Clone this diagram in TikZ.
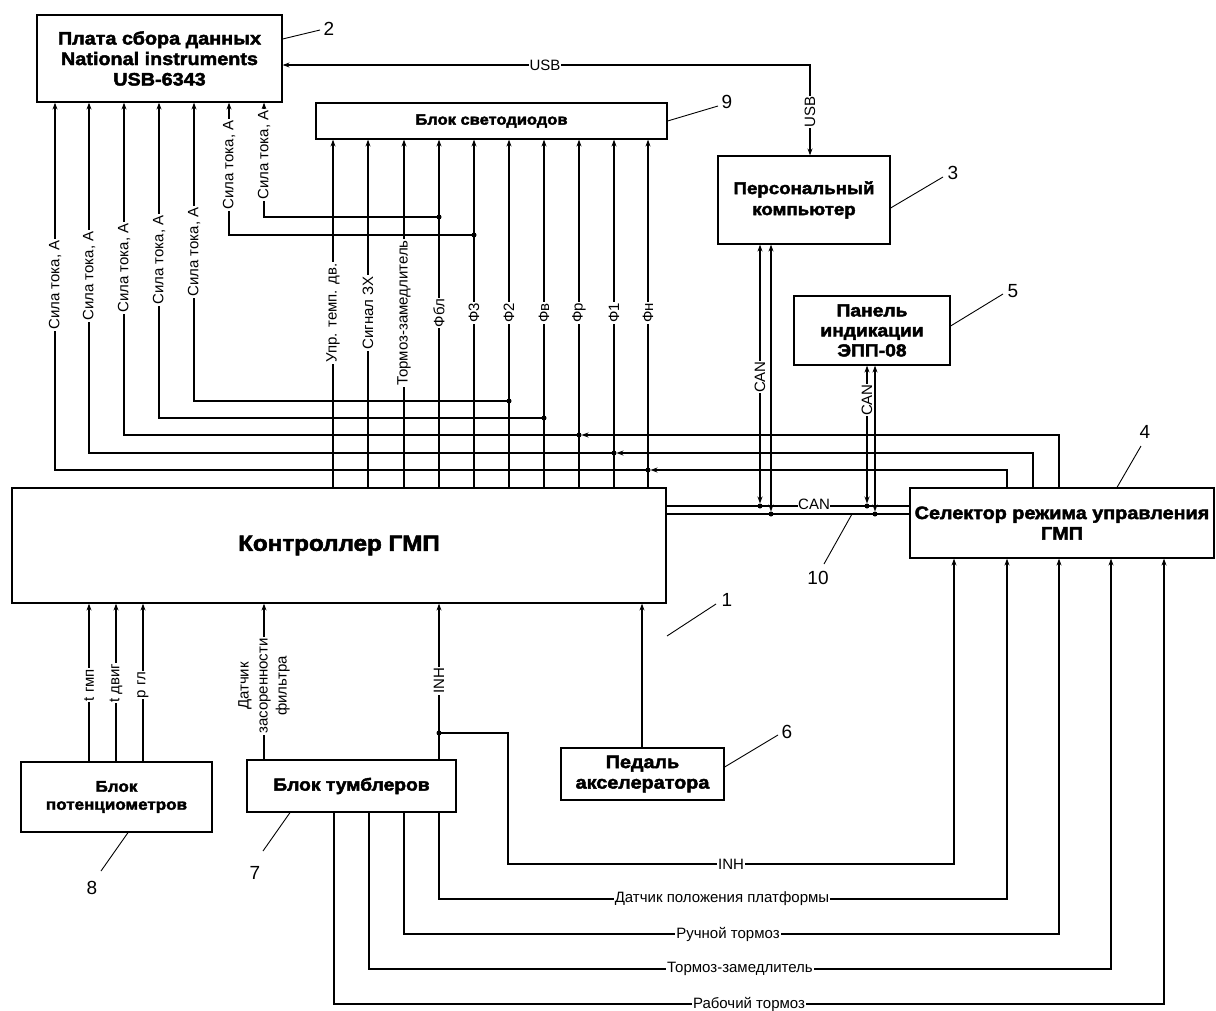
\documentclass[tikz,border=0pt]{standalone}
\usepackage{fontspec}
\setmainfont{Liberation Sans}
\newfontfamily\heavy{Liberation Sans}[FakeStretch=1.1,BoldFeatures={FakeBold=2.5}]
\usetikzlibrary{arrows.meta}
\tikzset{
 box/.style={draw, line width=1.2pt, inner sep=0pt, align=center, font=\heavy\bfseries\fontsize{18}{20.5}\selectfont},
 lab/.style={fill=white, inner sep=1pt, font=\fontsize{15}{19}\selectfont},
 vlab/.style={lab, rotate=90},
 num/.style={inner sep=0pt, font=\fontsize{19}{20}\selectfont},
 arr/.style={-{Stealth[length=7pt,width=5pt]}},
 arrb/.style={{Stealth[length=7pt,width=5pt]}-{Stealth[length=7pt,width=5pt]}},
 leader/.style={line width=0.9pt},
}
\begin{document}
\begin{tikzpicture}[x=1pt,y=-1pt,line width=1.1pt]
\useasboundingbox (0,0) rectangle (1216,1010);
% boxes
\node[box, minimum width=245pt, minimum height=87pt] (b2) at (159.5,58.5) {Плата сбора данных\\National instruments\\USB-6343};
\node[box, minimum width=351pt, minimum height=36pt, font=\heavy\bfseries\fontsize{15}{18}\selectfont] (b9) at (491.5,121) {Блок светодиодов};
\node[box, minimum width=172pt, minimum height=88pt, font=\heavy\bfseries\fontsize{17}{21}\selectfont] (pc) at (804,200) {Персональный\\компьютер};
\node[box, minimum width=156pt, minimum height=69pt, font=\heavy\bfseries\fontsize{17.5}{20}\selectfont] (pan) at (872,330.5) {Панель\\индикации\\ЭПП-08};
\node[box, minimum width=654pt, minimum height=115pt, font=\heavy\bfseries\fontsize{22}{24}\selectfont] (ctrl) at (339,545.5) {Контроллер ГМП};
\node[box, minimum width=304pt, minimum height=70pt] (sel) at (1062,523) {Селектор режима управления\\ГМП};
\node[box, minimum width=191pt, minimum height=70pt, font=\heavy\bfseries\fontsize{15.5}{18}\selectfont] (pot) at (116.5,797) {Блок\\потенциометров};
\node[box, minimum width=209pt, minimum height=52pt, font=\heavy\bfseries\fontsize{17.5}{20}\selectfont] (tum) at (351.5,786) {Блок тумблеров};
\node[box, minimum width=163pt, minimum height=52pt] (ped) at (642.5,774) {Педаль\\акселератора};
% controller -> LED block
\foreach \x/\t [count=\i] in {333/{Упр. темп. дв.},368/{Сигнал ЗХ},404/{Тормоз-замедлитель},439/Фбл,474/Ф3,509/Ф2,544/Фв,579/Фр,614/Ф1,648/Фн}{
  \draw[arr] (\x,0 |- ctrl.north) -- (\x,0 |- b9.south);
  \node[vlab] (lf\i) at (\x,313) {\t};
}
% current lines to DAQ
\coordinate (j1) at (648,470);
\coordinate (j2) at (614,453);
\coordinate (j3) at (579,435);
\coordinate (j4) at (544,418);
\coordinate (j5) at (509,401);
\coordinate (j6) at (474,235);
\coordinate (j7) at (439,217);
\draw[arr] (j1) -| (55,0 |- b2.south);
\draw[arr] (j2) -| (89,0 |- b2.south);
\draw[arr] (j3) -| (124,0 |- b2.south);
\draw[arr] (j4) -| (159,0 |- b2.south);
\draw[arr] (j5) -| (194,0 |- b2.south);
\draw[arr] (j6) -| (229,0 |- b2.south);
\draw[arr] (j7) -| (264,0 |- b2.south);
\draw[arr, shorten >=2.5pt] (1007,0 |- sel.north) |- (j1);
\draw[arr, shorten >=2.5pt] (1033,0 |- sel.north) |- (j2);
\draw[arr, shorten >=2.5pt] (1059,0 |- sel.north) |- (j3);
\foreach \j in {1,...,7} \fill (j\j) circle (2.5pt);
\foreach \x/\y [count=\i] in {55/285,89/276,124/268,159/260,194/252,229/165,264/155}
  \node[vlab] (ls\i) at (\x,\y) {Сила тока, А};
% USB
\draw[arrb] (b2.east |- 0,65) -| (810,0 |- pc.north);
\node[lab] (usb1) at (545,65) {USB};
\node[vlab] (usb2) at (810,112) {USB};
% CAN
\coordinate (c1) at (760,506);
\coordinate (c2) at (771,514);
\coordinate (c3) at (867,506);
\coordinate (c4) at (875,514);
\draw (ctrl.east |- c1) -- (sel.west |- c1);
\draw (ctrl.east |- c2) -- (sel.west |- c2);
\draw[arrb, shorten >=2.5pt] (c1 |- pc.south) -- (c1);
\draw[arrb, shorten >=2.5pt] (c2 |- pc.south) -- (c2);
\draw[arrb, shorten >=2.5pt] (c3 |- pan.south) -- (c3);
\draw[arrb, shorten >=2.5pt] (c4 |- pan.south) -- (c4);
\foreach \c in {c1,c2,c3,c4} \fill (\c) circle (2.5pt);
\node[lab, inner sep=0.5pt] (canb) at (814,504.5) {CAN};
\node[vlab, inner sep=0.5pt] (can1) at (760,377) {CAN};
\node[vlab, inner sep=0.5pt] (can2) at (867,400) {CAN};
% bottom inputs of controller
\draw[arr] (89,0 |- pot.north) -- (89,0 |- ctrl.south);
\draw[arr] (116,0 |- pot.north) -- (116,0 |- ctrl.south);
\draw[arr] (143,0 |- pot.north) -- (143,0 |- ctrl.south);
\node[vlab] (lt1) at (89,685) {t гмп};
\node[vlab] (lt2) at (116,683) {t двиг};
\node[vlab] (lt3) at (143,685) {р гл};
\draw[arr] (264,0 |- tum.north) -- (264,0 |- ctrl.south);
\node[vlab, align=center] (ldz) at (264,686) {Датчик\\засоренности\\фильтра};
\draw[arr] (439,0 |- tum.north) -- (439,0 |- ctrl.south);
\node[vlab] (linh1) at (439,681) {INH};
\coordinate (ji) at (439,733);
\fill (ji) circle (2.5pt);
\draw[arr] (ji) -| (508,864) -| (954,0 |- sel.south);
\node[lab] (linh2) at (731,864) {INH};
\draw[arr] (642,0 |- ped.north) -- (642,0 |- ctrl.south);
% switch block -> selector
\draw[arr] (439,0 |- tum.south) |- (1007,899) -- (1007,0 |- sel.south);
\draw[arr] (404,0 |- tum.south) |- (1059,934) -- (1059,0 |- sel.south);
\draw[arr] (369,0 |- tum.south) |- (1111,969) -- (1111,0 |- sel.south);
\draw[arr] (334,0 |- tum.south) |- (1164,1004) -- (1164,0 |- sel.south);
\node[lab] (lb1) at (722,899) {Датчик положения платформы};
\node[lab] (lb2) at (728,934) {Ручной тормоз};
\node[lab] (lb3) at (740,969) {Тормоз-замедлитель};
\node[lab] (lb4) at (749,1004) {Рабочий тормоз};
% reference numbers
\node[num] (n2) at (329,29) {2};
\node[num] (n9) at (727,102) {9};
\node[num] (n3) at (953,173) {3};
\node[num] (n5) at (1013,291) {5};
\node[num] (n4) at (1145,432) {4};
\node[num] (n10) at (818,578) {10};
\node[num] (n1) at (727,600) {1};
\node[num] (n6) at (787,732) {6};
\node[num] (n7) at (255,873) {7};
\node[num] (n8) at (92,888) {8};
\draw[leader] (b2.east |- 0,39) -- (320,30);
\draw[leader] (b9.east |- 0,121) -- (718,106);
\draw[leader] (pc.east |- 0,208) -- (943,177);
\draw[leader] (pan.east |- 0,326) -- (1003,294);
\draw[leader] (1117,0 |- sel.north) -- (1141,446);
\draw[leader] (852,514) -- (824,564);
\draw[leader] (667,636) -- (716,604);
\draw[leader] (ped.east |- 0,767) -- (778,735);
\draw[leader] (290,0 |- tum.south) -- (263,851);
\draw[leader] (128,0 |- pot.south) -- (101,871);
\end{tikzpicture}
\end{document}
